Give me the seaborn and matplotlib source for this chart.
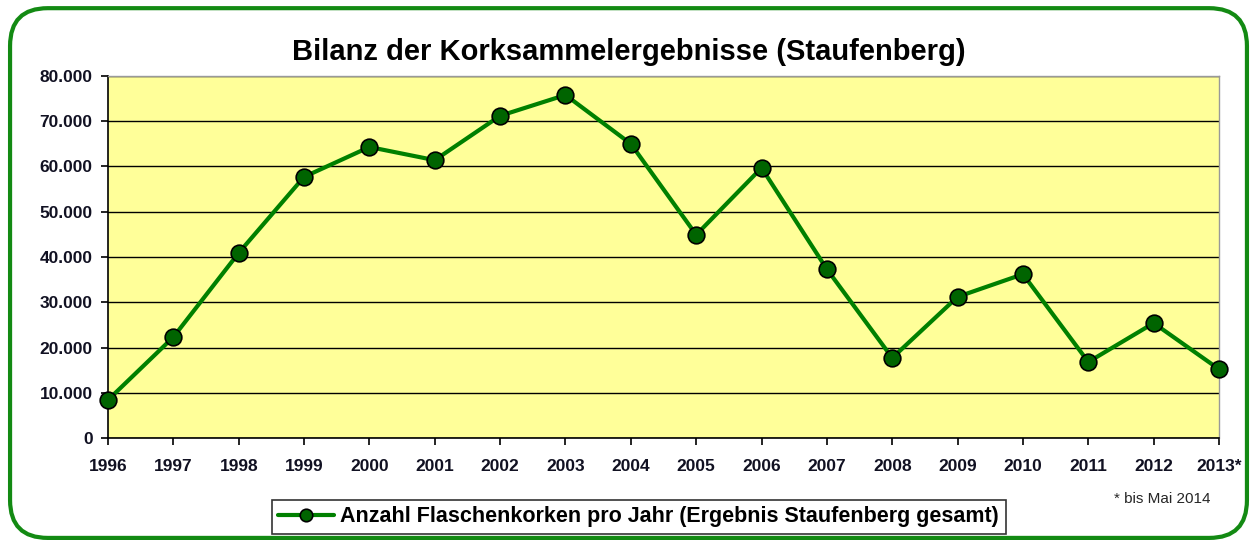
import matplotlib
matplotlib.use("Agg")
import matplotlib.pyplot as plt
import seaborn as sns
import pandas as pd
from matplotlib.patches import FancyBboxPatch
from matplotlib.ticker import FuncFormatter, MultipleLocator

years = ["1996", "1997", "1998", "1999", "2000", "2001", "2002", "2003", "2004",
         "2005", "2006", "2007", "2008", "2009", "2010", "2011", "2012", "2013*"]
corks = [8400, 22300, 40900, 57700, 64300, 61400, 71200, 75800, 65000,
         44900, 59700, 37300, 17700, 31200, 36200, 16800, 25400, 15200]
series_label = "Anzahl Flaschenkorken pro Jahr (Ergebnis Staufenberg gesamt)"
title = "Bilanz der Korksammelergebnisse (Staufenberg)"
note = "* bis Mai 2014"

sns.set_theme(style="white")
plt.rcParams['font.family'] = ['Liberation Sans', 'DejaVu Sans']

df = pd.DataFrame({"idx": range(len(years)), "Jahr": years, "Korken": corks})

fig = plt.figure(figsize=(12.57, 5.45), dpi=100)
fig.patch.set_facecolor("white")
border = FancyBboxPatch((0.008, 0.013), 0.984, 0.972,
                        boxstyle="round,pad=0,rounding_size=0.03",
                        transform=fig.transFigure, facecolor="none",
                        edgecolor="#138a13", linewidth=3, mutation_aspect=1257/545)
fig.patches.append(border)

ax = fig.add_axes([0.0859, 0.1963, 0.8839, 0.6643])
ax.set_facecolor("#FFFF99")

sns.lineplot(data=df, x="idx", y="Korken", ax=ax, color="#008000", linewidth=3,
             marker="o", markersize=12, markerfacecolor="#006400",
             markeredgecolor="black", markeredgewidth=1.2, label=series_label,
             legend=False, clip_on=False, zorder=5)

ax.set_xlim(0, len(years) - 1)
ax.set_ylim(0, 80000)
ax.yaxis.set_major_locator(MultipleLocator(10000))
ax.yaxis.set_major_formatter(FuncFormatter(lambda v, p: "0" if v == 0 else f"{int(v):,}".replace(",", ".")))
ax.set_xticks(range(len(years)))
ax.set_xticklabels(years)
ax.grid(axis="y", color="black", linewidth=1)
ax.grid(axis="x", visible=False)
ax.set_xlabel("")
ax.set_ylabel("")
for s in ["left", "bottom"]:
    ax.spines[s].set_color("black")
    ax.spines[s].set_linewidth(1.2)
for s in ["top", "right"]:
    ax.spines[s].set_color("#999999")
    ax.spines[s].set_linewidth(1)
ax.tick_params(axis="both", which="major", direction="out", length=5, width=1.2,
               color="black", labelsize=12.5, pad=6)
ax.tick_params(left=True, bottom=True)
for lab in ax.get_xticklabels() + ax.get_yticklabels():
    lab.set_fontweight("bold")
    lab.set_color("#111122")
ax.tick_params(axis="x", pad=10)

fig.text(0.5, 0.905, title, ha="center", va="center", fontsize=21, fontweight="bold",
         color="black")
fig.text(0.925, 0.085, note, ha="center", va="center", fontsize=11)

handles, labels = ax.get_legend_handles_labels()
leg = fig.legend(handles, labels, loc="center", bbox_to_anchor=(0.508, 0.052),
                 frameon=True, fancybox=False, prop={"weight": "bold", "size": 15.5},
                 handlelength=2.6, handletextpad=0.3, borderpad=0.3)
leg.get_frame().set_edgecolor("black")
leg.get_frame().set_linewidth(1.2)
for h in leg.legend_handles:
    h.set_markersize(9)
for t in leg.get_texts():
    t.set_color("black")

fig.savefig("out.png", dpi=100)
